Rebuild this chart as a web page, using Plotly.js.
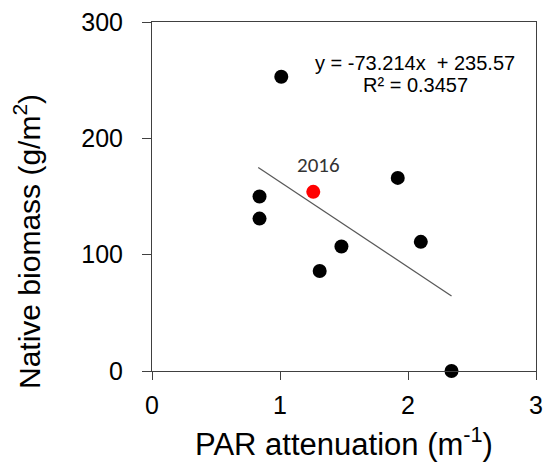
<!DOCTYPE html>
<html>
<head>
<meta charset="utf-8">
<script src="https://cdn.plot.ly/plotly-3.0.1.min.js"></script>
<style>html,body{margin:0;padding:0;background:#fff;}#chart{width:548px;height:463px;}</style>
</head>
<body>
<div id="chart"></div>
<script>
// Data
var parAttenuation = [1.01, 0.84, 0.84, 1.31, 1.48, 1.92, 2.10, 2.34];
var nativeBiomass  = [253, 150, 131, 86, 107, 166, 111, 0];
var highlightX = [1.26];
var highlightY = [154];
var highlightLabel = ["2016"];
var trendX = [0.83, 2.34];
var trendY = [175, 64.5];
var xTicks = [0, 1, 2, 3];
var yTicks = [0, 100, 200, 300];
var equationText = ["y = -73.214x  + 235.57", "R\u00b2 = 0.3457"];

var axisColor = '#404040';
var fontFam = 'Liberation Sans, Arial, sans-serif';
var traces = [
  {x: trendX, y: trendY, mode: 'lines', type: 'scatter',
   line: {color: '#595959', width: 1.25}, hoverinfo: 'skip', showlegend: false},
  {x: parAttenuation, y: nativeBiomass, mode: 'markers', type: 'scatter',
   marker: {color: '#000000', size: 14}, cliponaxis: false, showlegend: false},
  {x: highlightX, y: highlightY, mode: 'markers', type: 'scatter',
   marker: {color: '#ff0000', size: 14}, cliponaxis: false, showlegend: false}
];

var layout = {
  width: 548, height: 463,
  margin: {l: 152, r: 12, t: 22, b: 92},
  paper_bgcolor: '#ffffff', plot_bgcolor: '#ffffff',
  showlegend: false,
  font: {family: fontFam, color: '#000000'},
  xaxis: {
    range: [0, 3], tickvals: xTicks, ticktext: xTicks.map(String),
    showgrid: false, zeroline: false, showline: true, mirror: true,
    linecolor: axisColor, linewidth: 1,
    ticks: 'outside', ticklen: 8, tickcolor: axisColor, tickwidth: 1,
    ticklabelstandoff: 4,
    tickfont: {size: 25, family: fontFam, color: '#000'},
    title: {text: 'PAR attenuation (m<sup>-1</sup>)', font: {size: 31, family: fontFam, color: '#000'}, standoff: 15}
  },
  yaxis: {
    range: [0, 300], tickvals: yTicks, ticktext: yTicks.map(String),
    showgrid: false, zeroline: false, showline: true, mirror: true,
    linecolor: axisColor, linewidth: 1,
    ticks: 'outside', ticklen: 9, tickcolor: axisColor, tickwidth: 1,
    ticklabelstandoff: 14,
    tickfont: {size: 25, family: fontFam, color: '#000'}
  },
  annotations: [
    {x: highlightX[0], y: highlightY[0], xref: 'x', yref: 'y', text: highlightLabel[0],
     showarrow: false, yshift: 27, xshift: 5,
     font: {size: 21, family: 'Carlito, Open Sans, sans-serif', color: '#333333'}},
    {x: 0.686, y: 0.8825, xref: 'paper', yref: 'paper', text: equationText[0],
     showarrow: false, xanchor: 'center', yanchor: 'middle',
     font: {size: 20, family: fontFam, color: '#000'}},
    {x: 0.686, y: 0.8195, xref: 'paper', yref: 'paper', text: equationText[1],
     showarrow: false, xanchor: 'center', yanchor: 'middle',
     font: {size: 20, family: fontFam, color: '#000'}},
    {x: 0, y: 0, xref: 'paper', yref: 'paper', text: 'Native biomass (g/m<sup>2</sup>)',
     showarrow: false, textangle: -90, xanchor: 'center', yanchor: 'middle',
     font: {size: 30, family: fontFam, color: '#000'}}
  ]
};
// position the y-axis title in pixel terms relative to the plot area
var plotW = 548 - 152 - 12, plotH = 463 - 22 - 92;
layout.annotations[3].x = (27 - 152) / plotW;
layout.annotations[3].y = (463 - 92 - 242) / plotH;

Plotly.newPlot('chart', traces, layout, {displayModeBar: false, staticPlot: true});
</script>
</body>
</html>
